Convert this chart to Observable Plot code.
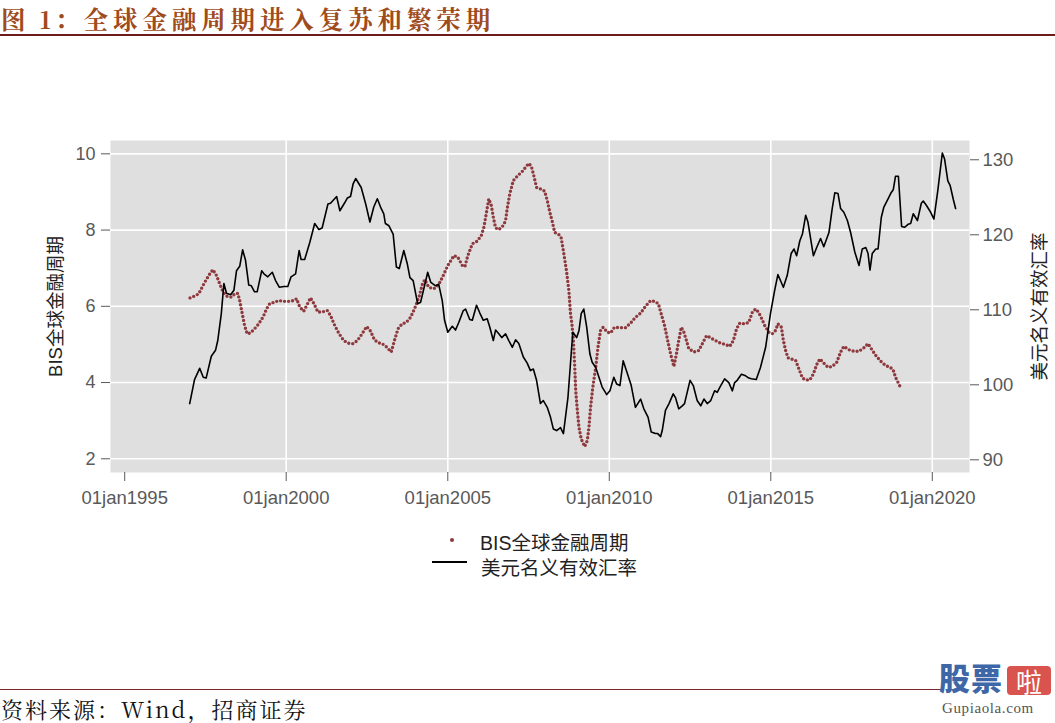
<!DOCTYPE html>
<html>
<head>
<meta charset="utf-8">
<script src="https://cdn.jsdelivr.net/npm/d3@7"></script>
<script src="https://cdn.jsdelivr.net/npm/@observablehq/plot@0.6"></script>
<style>
  html, body { margin: 0; padding: 0; background: #fff; }
  body { width: 1055px; height: 723px; position: relative; overflow: hidden;
         font-family: "Liberation Sans", Arial, "Noto Sans CJK SC", sans-serif; }
  .abs { position: absolute; }
  #title { left: 1px; top: 1px; font-family: "Noto Serif CJK SC", "Noto Sans CJK SC", serif; font-weight: bold;
           font-size: 24.5px; letter-spacing: 4.9px; color: #a04b1c; white-space: nowrap; }
  #title .pre { letter-spacing: 4px; }
  #rule1 { left: 0; top: 34px; width: 1055px; height: 2px; background: #6e1c1c; }
  #chart { left: 0; top: 120px; }
  .leg { font-size: 19.5px; color: #222; white-space: nowrap; }
  #rule2 { left: 0; top: 689px; width: 942px; height: 1px; background: #7a2a2a; }
  #source { left: 1px; top: 697px; line-height: 24px; font-family: "Noto Serif CJK SC", "Noto Sans CJK SC", serif; font-size: 22px; letter-spacing: 2px; color: #111; white-space: nowrap; }
  #wm1 { left: 939px; top: 660px; font-family: "Noto Sans CJK SC", sans-serif; font-weight: 900; font-size: 31px; color: #3d67a6; letter-spacing: 1px; line-height: 34px; }
  #wm2 { left: 1007px; top: 666px; width: 44px; height: 29px; background: #d9534f; border-radius: 4px; color: #fff;
         font-family: "Noto Sans CJK SC", sans-serif; font-size: 26px; line-height: 29px; text-align: center; }
  #wm3 { left: 942px; top: 699px; font-family: "Liberation Serif", serif; font-size: 15px; line-height: 18px; color: #555; letter-spacing: 0.6px; }
</style>
</head>
<body>
<div id="title" class="abs"><span class="pre">图 1：</span>全球金融周期进入复苏和繁荣期</div>
<div id="rule1" class="abs"></div>
<div id="chart" class="abs"></div>
<div class="abs" style="left:450px;top:538px;width:4px;height:4px;border-radius:50%;background:#8e393d;"></div>
<div class="abs leg" style="left:480px;top:527px;">BIS全球金融周期</div>
<div class="abs" style="left:432px;top:561px;width:35px;height:1.6px;background:#000;"></div>
<div class="abs leg" style="left:481px;top:552px;">美元名义有效汇率</div>
<div id="rule2" class="abs"></div>
<div id="source" class="abs">资料来源：Wind，招商证券</div>
<div id="wm1" class="abs">股票</div>
<div id="wm2" class="abs">啦</div>
<div id="wm3" class="abs">Gupiaola.com</div>
<script>
// ---- data ----
const seriesNames = ["BIS全球金融周期", "美元名义有效汇率"];
const xTickYears = [1995, 2000, 2005, 2010, 2015, 2020];
const xGridYears = [2000, 2005, 2010, 2015, 2020];
const leftTicks = [2, 4, 6, 8, 10];
const rightTicks = [90, 100, 110, 120, 130];

// US dollar nominal effective exchange rate (right axis)
const usdYear = [1997.01,1997.16,1997.32,1997.43,1997.52,1997.68,1997.81,1997.88,1997.99,1998.07,1998.15,1998.28,1998.38,1998.46,1998.56,1998.65,1998.74,1998.84,1998.92,1999.02,1999.10,1999.24,1999.31,1999.43,1999.57,1999.67,1999.79,1999.93,2000.05,2000.15,2000.29,2000.40,2000.46,2000.57,2000.73,2000.88,2001.01,2001.11,2001.29,2001.37,2001.56,2001.66,2001.80,2001.89,2001.99,2002.07,2002.15,2002.32,2002.46,2002.59,2002.71,2002.82,2002.92,2003.02,2003.07,2003.18,2003.31,2003.41,2003.50,2003.64,2003.75,2003.83,2003.93,2004.07,2004.16,2004.38,2004.47,2004.62,2004.72,2004.83,2004.90,2005.00,2005.14,2005.24,2005.34,2005.48,2005.55,2005.68,2005.76,2005.89,2005.99,2006.10,2006.22,2006.30,2006.41,2006.48,2006.58,2006.67,2006.79,2006.89,2007.00,2007.10,2007.20,2007.34,2007.46,2007.56,2007.65,2007.75,2007.87,2007.96,2008.08,2008.18,2008.27,2008.37,2008.49,2008.58,2008.72,2008.87,2008.99,2009.06,2009.13,2009.21,2009.30,2009.40,2009.47,2009.58,2009.68,2009.78,2009.92,2010.02,2010.14,2010.23,2010.33,2010.43,2010.56,2010.68,2010.81,2010.97,2011.07,2011.20,2011.30,2011.43,2011.50,2011.59,2011.64,2011.74,2011.85,2011.98,2012.05,2012.15,2012.26,2012.33,2012.50,2012.60,2012.72,2012.83,2012.93,2013.03,2013.14,2013.26,2013.34,2013.45,2013.57,2013.70,2013.81,2013.88,2013.96,2014.09,2014.22,2014.32,2014.40,2014.55,2014.68,2014.84,2014.99,2015.12,2015.22,2015.39,2015.51,2015.63,2015.72,2015.80,2015.90,2015.98,2016.08,2016.15,2016.32,2016.42,2016.54,2016.64,2016.80,2016.90,2016.98,2017.08,2017.16,2017.26,2017.37,2017.47,2017.60,2017.73,2017.83,2017.94,2018.01,2018.07,2018.14,2018.25,2018.32,2018.42,2018.50,2018.63,2018.71,2018.79,2018.86,2018.95,2019.05,2019.14,2019.25,2019.33,2019.41,2019.54,2019.66,2019.72,2019.82,2019.95,2020.05,2020.17,2020.31,2020.38,2020.48,2020.55,2020.65,2020.72];
const usdValue = [97.5,100.7,102.2,101.0,100.9,103.8,104.6,105.9,109.5,113.5,112.2,112.0,112.6,115.2,115.8,118.0,116.6,113.3,113.2,112.4,112.4,115.2,114.8,114.4,115.0,113.9,113.0,113.1,113.1,114.4,114.8,117.9,116.7,116.7,119.0,121.5,120.7,120.9,124.1,124.2,125.1,123.2,124.2,124.9,125.1,126.8,127.5,126.3,124.1,121.7,123.7,124.8,123.7,122.8,121.5,121.2,120.1,115.7,115.5,117.9,116.1,114.3,113.9,110.8,111.0,115.0,113.7,113.2,113.4,111.2,108.6,107.0,107.8,107.3,108.3,109.9,110.1,108.7,108.6,110.6,109.6,108.6,108.8,107.7,105.9,107.3,106.8,106.3,106.8,105.9,105.0,106.0,105.5,103.7,102.9,101.9,102.1,100.6,97.5,97.9,97.0,95.7,94.1,93.9,94.3,93.5,98.3,107.0,106.3,107.2,109.5,110.1,107.7,104.1,103.0,102.3,101.0,99.7,98.7,99.2,101.0,100.1,99.9,103.2,101.5,99.9,97.0,98.1,96.8,95.7,93.7,93.5,93.5,93.1,93.9,96.6,97.5,98.8,98.3,96.8,97.2,97.5,100.6,99.9,97.9,97.2,98.1,97.5,97.9,99.2,99.0,99.9,100.8,100.3,99.2,100.3,100.6,101.4,101.2,100.9,100.8,100.7,102.3,105.0,109.5,112.6,114.7,113.0,114.6,117.5,118.1,117.2,119.2,120.1,122.6,121.7,117.2,118.3,119.5,118.4,120.3,123.5,125.6,125.5,123.5,123.0,121.9,120.3,117.7,115.9,118.1,118.3,117.5,115.3,117.5,118.1,118.1,122.3,123.7,124.8,125.5,126.0,127.8,127.8,121.1,121.0,121.4,121.5,122.8,121.9,124.2,124.5,123.9,123.0,122.1,125.9,130.9,130.1,127.2,126.6,124.7,123.5];

// BIS global financial cycle (left axis)
const bisYear = [1997.02,1997.19,1997.29,1997.45,1997.60,1997.73,1997.84,1997.94,1998.05,1998.17,1998.30,1998.41,1998.50,1998.56,1998.64,1998.71,1998.79,1998.89,1999.02,1999.15,1999.29,1999.39,1999.49,1999.64,1999.77,1999.93,2000.08,2000.24,2000.32,2000.42,2000.54,2000.65,2000.75,2000.85,2000.98,2001.11,2001.27,2001.37,2001.50,2001.63,2001.78,2001.94,2002.07,2002.20,2002.35,2002.49,2002.61,2002.73,2002.87,2002.97,2003.11,2003.25,2003.35,2003.46,2003.59,2003.72,2003.85,2003.97,2004.11,2004.21,2004.29,2004.41,2004.57,2004.72,2004.86,2005.00,2005.19,2005.31,2005.45,2005.53,2005.62,2005.76,2005.91,2006.04,2006.12,2006.20,2006.27,2006.35,2006.41,2006.48,2006.58,2006.72,2006.79,2006.84,2006.92,2007.03,2007.17,2007.31,2007.41,2007.51,2007.59,2007.67,2007.75,2007.87,2008.00,2008.08,2008.16,2008.24,2008.31,2008.44,2008.51,2008.59,2008.68,2008.75,2008.80,2008.84,2008.89,2008.93,2008.96,2009.01,2009.06,2009.13,2009.24,2009.32,2009.37,2009.42,2009.49,2009.58,2009.65,2009.73,2009.81,2009.94,2010.04,2010.16,2010.33,2010.50,2010.66,2010.81,2010.97,2011.12,2011.28,2011.40,2011.52,2011.61,2011.71,2011.81,2011.90,2012.00,2012.08,2012.15,2012.23,2012.31,2012.39,2012.46,2012.62,2012.77,2012.88,2013.01,2013.14,2013.29,2013.45,2013.60,2013.73,2013.84,2013.94,2014.04,2014.19,2014.32,2014.43,2014.53,2014.58,2014.68,2014.81,2014.94,2015.05,2015.15,2015.22,2015.33,2015.39,2015.46,2015.53,2015.63,2015.77,2015.87,2015.98,2016.08,2016.21,2016.32,2016.42,2016.52,2016.64,2016.77,2016.90,2017.04,2017.16,2017.26,2017.42,2017.57,2017.73,2017.88,2018.01,2018.11,2018.25,2018.40,2018.55,2018.71,2018.79,2018.86,2019.00];
const bisValue = [6.22,6.28,6.33,6.59,6.81,6.96,6.81,6.59,6.37,6.26,6.24,6.33,6.34,6.15,5.80,5.50,5.28,5.30,5.41,5.54,5.73,5.93,6.07,6.11,6.15,6.13,6.13,6.15,6.20,5.98,5.87,6.05,6.22,6.08,5.85,5.85,5.89,5.76,5.50,5.29,5.10,5.03,5.02,5.10,5.28,5.47,5.35,5.12,5.04,5.02,4.93,4.80,5.10,5.41,5.54,5.58,5.71,5.93,6.24,6.57,6.70,6.50,6.46,6.57,6.81,7.07,7.33,7.29,7.07,7.04,7.33,7.64,7.71,7.86,8.08,8.47,8.82,8.64,8.34,8.06,8.01,8.12,8.25,8.56,8.95,9.30,9.43,9.54,9.65,9.75,9.67,9.41,9.12,9.08,9.02,8.78,8.47,8.21,7.94,7.88,7.80,7.40,6.90,6.40,5.80,5.56,5.10,4.40,3.79,3.27,2.83,2.52,2.32,2.48,2.83,3.35,3.88,4.40,4.93,5.37,5.45,5.32,5.30,5.45,5.44,5.44,5.56,5.71,5.82,6.00,6.15,6.13,6.07,5.80,5.50,5.10,4.75,4.42,4.75,5.10,5.45,5.32,5.10,4.89,4.80,4.84,5.02,5.23,5.17,5.10,5.03,5.00,4.95,5.10,5.41,5.56,5.54,5.58,5.85,5.93,5.89,5.75,5.50,5.32,5.28,5.37,5.54,5.45,5.10,4.84,4.65,4.62,4.58,4.36,4.12,4.07,4.07,4.23,4.47,4.62,4.51,4.40,4.42,4.53,4.80,4.95,4.86,4.82,4.82,4.91,5.02,4.89,4.71,4.56,4.45,4.39,4.33,4.14,3.90];

// ---- helpers ----
function toDate(y) {
  const yr = Math.floor(y);
  const s = Date.UTC(yr, 0, 1), e = Date.UTC(yr + 1, 0, 1);
  return new Date(s + (y - yr) * (e - s));
}
const leftDomain = [1.64, 10.35];
const rightDomain = [88.31, 132.57];
const k = (leftDomain[1] - leftDomain[0]) / (rightDomain[1] - rightDomain[0]);
const toLeft = r => leftDomain[0] + (r - rightDomain[0]) * k;
const fromLeft = l => rightDomain[0] + (l - leftDomain[0]) / k;

const usd = usdYear.map((y, i) => ({date: toDate(y), value: usdValue[i]}));
const bis = bisYear.map((y, i) => ({date: toDate(y), value: bisValue[i]}));

const tickColor = "#595959";
const chart = Plot.plot({
  width: 1055,
  height: 400,
  marginTop: 20,
  marginBottom: 48,
  marginLeft: 110,
  marginRight: 86,
  style: {fontFamily: "'Liberation Sans', Arial, 'Noto Sans CJK SC', sans-serif", background: "transparent", overflow: "visible"},
  x: {type: "utc", domain: [toDate(1994.56), toDate(2021.15)]},
  y: {domain: leftDomain},
  marks: [
    Plot.frame({fill: "#dfdfdf", stroke: null}),
    Plot.gridY({ticks: leftTicks, stroke: "#ffffff", strokeOpacity: 1, strokeWidth: 1.6}),
    Plot.gridX({ticks: xGridYears.map(y => toDate(y)), stroke: "#ffffff", strokeOpacity: 1, strokeWidth: 1.6}),
    Plot.axisY({ticks: leftTicks, anchor: "left", tickSize: 9, tickPadding: 6, fontSize: 18, color: tickColor, label: null}),
    Plot.axisY({ticks: rightTicks.map(toLeft), anchor: "right", tickSize: 9, tickPadding: 4, fontSize: 18.5, color: tickColor, label: null,
                tickFormat: d => String(Math.round(fromLeft(d)))}),
    Plot.axisX({ticks: xTickYears.map(y => toDate(y)), anchor: "bottom", tickSize: 9, tickPadding: 9, fontSize: 18.5, color: tickColor, label: null,
                tickFormat: d => "01jan" + d.getUTCFullYear()}),
    Plot.line(bis, {x: "date", y: "value", stroke: "#8e393d", strokeWidth: 3.4, strokeDasharray: "0 4", strokeLinecap: "round"}),
    Plot.line(usd, {x: "date", y: d => toLeft(d.value), stroke: "#000000", strokeWidth: 1.6}),
    Plot.text([seriesNames[0]], {text: d => d, frameAnchor: "left", textAnchor: "middle", dx: -54, rotate: -90, fontSize: 18.5, fill: "#222"}),
    Plot.text([seriesNames[1]], {text: d => d, frameAnchor: "right", textAnchor: "middle", dx: 71, rotate: -90, fontSize: 18.5, fill: "#222"})
  ]
});
document.getElementById("chart").appendChild(chart);
</script>
</body>
</html>
